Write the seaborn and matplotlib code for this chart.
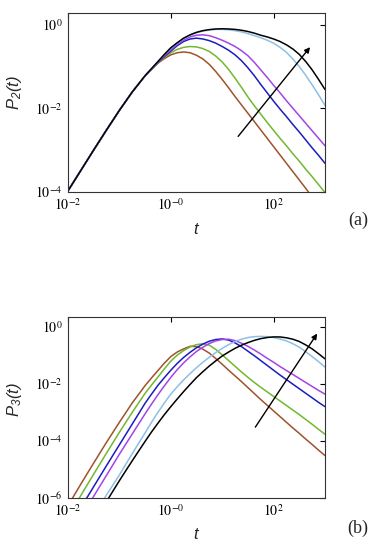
import numpy as np
import pandas as pd
import matplotlib
matplotlib.use("Agg")
import matplotlib.pyplot as plt
from matplotlib.ticker import FixedLocator, FixedFormatter, NullLocator
import seaborn as sns

# ---------------- data (log10 values) ----------------
log_t = [-2, -1.75, -1.5, -1.25, -1, -0.75,
         -0.5, -0.375, -0.25, -0.125, 0, 0.125, 0.25, 0.375, 0.5, 0.625, 0.75, 0.875,
         1, 1.125, 1.25, 1.375, 1.5, 1.625, 1.75, 1.875, 2, 2.125, 2.25, 2.375,
         2.5, 2.625, 2.75, 2.875, 3]

curve_names = ["brown", "green", "blue", "purple", "lightblue", "black"]

# panel (a): log10 P2(t)
p2_early = [-3.98, -3.49, -3.00, -2.52, -2.05, -1.61]
p2_brown = p2_early + [-1.22, -1.07, -0.92, -0.81, -0.72, -0.67, -0.65, -0.67, -0.73, -0.82, -0.95, -1.12,
                       -1.31, -1.51, -1.72, -1.92, -2.12, -2.32, -2.52, -2.72, -2.92, -3.12, -3.32, -3.52,
                       -3.72, -3.92, -4.13, -4.34, -4.55]
p2_green = p2_early + [-1.22, -1.06, -0.91, -0.78, -0.67, -0.59, -0.54, -0.52, -0.53, -0.57, -0.64, -0.75,
                       -0.89, -1.07, -1.28, -1.50, -1.73, -1.94, -2.14, -2.34, -2.53, -2.72, -2.90, -3.09,
                       -3.27, -3.46, -3.64, -3.83, -4.02]
p2_blue = p2_early + [-1.22, -1.06, -0.90, -0.76, -0.63, -0.50, -0.40, -0.34, -0.32, -0.34, -0.38, -0.44,
                      -0.52, -0.61, -0.72, -0.86, -1.03, -1.22, -1.43, -1.63, -1.83, -2.02, -2.20, -2.39,
                      -2.57, -2.76, -2.95, -3.13, -3.32]
p2_purple = p2_early + [-1.22, -1.06, -0.89, -0.74, -0.60, -0.47, -0.37, -0.29, -0.25, -0.24, -0.26, -0.31,
                        -0.37, -0.44, -0.52, -0.62, -0.74, -0.90, -1.08, -1.26, -1.45, -1.63, -1.82, -2.00,
                        -2.18, -2.36, -2.54, -2.72, -2.90]
p2_lightblue = p2_early + [-1.22, -1.05, -0.88, -0.71, -0.56, -0.44, -0.33, -0.25, -0.19, -0.15, -0.125, -0.11,
                           -0.11, -0.12, -0.14, -0.17, -0.21, -0.26, -0.31, -0.37, -0.44, -0.54, -0.66, -0.82,
                           -1.00, -1.21, -1.44, -1.68, -1.93]
p2_black = p2_early + [-1.22, -1.05, -0.88, -0.71, -0.55, -0.43, -0.32, -0.24, -0.18, -0.14, -0.115, -0.10,
                       -0.095, -0.10, -0.11, -0.13, -0.16, -0.20, -0.25, -0.29, -0.34, -0.40, -0.48, -0.58,
                       -0.71, -0.88, -1.08, -1.31, -1.55]

# panel (b): log10 P3(t)
p3_brown = [-6.28, -5.52, -4.78, -4.05, -3.35, -2.67,
            -2.06, -1.79, -1.53, -1.27, -1.04, -0.88, -0.77, -0.68, -0.69, -0.78, -0.92, -1.11,
            -1.31, -1.52, -1.72, -1.92, -2.13, -2.34, -2.55, -2.75, -2.95, -3.15, -3.35, -3.55,
            -3.74, -3.94, -4.13, -4.33, -4.52]
p3_green = [-6.67, -5.92, -5.17, -4.43, -3.70, -3.00,
            -2.33, -2.04, -1.76, -1.47, -1.20, -0.99, -0.83, -0.70, -0.62, -0.59, -0.64, -0.79,
            -0.98, -1.18, -1.38, -1.58, -1.77, -1.95, -2.12, -2.28, -2.44, -2.60, -2.76, -2.92,
            -3.08, -3.25, -3.42, -3.60, -3.77]
p3_blue = [-7.10, -6.35, -5.61, -4.87, -4.14, -3.41,
           -2.68, -2.36, -2.05, -1.78, -1.52, -1.28, -1.07, -0.89, -0.73, -0.60, -0.50, -0.44,
           -0.42, -0.46, -0.56, -0.69, -0.85, -1.01, -1.18, -1.35, -1.52, -1.69, -1.85, -2.01,
           -2.17, -2.33, -2.49, -2.65, -2.80]
p3_purple = [-7.45, -6.70, -5.95, -5.21, -4.47, -3.76,
             -3.05, -2.71, -2.38, -2.07, -1.77, -1.50, -1.26, -1.05, -0.86, -0.71, -0.58, -0.49,
             -0.44, -0.43, -0.48, -0.57, -0.68, -0.81, -0.95, -1.10, -1.24, -1.39, -1.53, -1.67,
             -1.81, -1.95, -2.09, -2.23, -2.36]
p3_lightblue = [-8.10, -7.35, -6.63, -5.90, -5.20, -4.45,
                -3.72, -3.35, -3.00, -2.67, -2.36, -2.10, -1.86, -1.64, -1.43, -1.24, -1.06, -0.90,
                -0.75, -0.62, -0.51, -0.43, -0.37, -0.34, -0.33, -0.34, -0.37, -0.42, -0.49, -0.59,
                -0.71, -0.87, -1.04, -1.22, -1.41]
p3_black = [-8.36, -7.62, -6.88, -6.13, -5.40, -4.70,
            -4.02, -3.69, -3.38, -3.08, -2.80, -2.53, -2.27, -2.02, -1.78, -1.57, -1.37, -1.19,
            -1.02, -0.88, -0.75, -0.64, -0.55, -0.47, -0.41, -0.37, -0.35, -0.35, -0.38, -0.43,
            -0.51, -0.63, -0.77, -0.94, -1.12]

xtick_vals = [1e-2, 1e0, 1e2]
xtick_labels = ["$10^{-2}$", "$10^{-0}$", "$10^{2}$"]
ytick_vals_a = [1e-4, 1e-2, 1e0]
ytick_labels_a = ["$10^{-4}$", "$10^{-2}$", "$10^{0}$"]
ytick_vals_b = [1e-6, 1e-4, 1e-2, 1e0]
ytick_labels_b = ["$10^{-6}$", "$10^{-4}$", "$10^{-2}$", "$10^{0}$"]

# arrows (tail, head) in log10 data coords
arrow_a = ((1.31, -2.675), (2.71, -0.535))
arrow_b = ((1.645, -3.52), (2.848, -0.23))

palette = {"brown": "#a0522d", "green": "#72b82e", "blue": "#1c1cbf",
           "purple": "#a444e6", "lightblue": "#8cc0e6", "black": "#000000"}

# ---------------- style ----------------
sns.set_theme(style="white")
plt.rcParams["font.family"] = ["Liberation Serif", "DejaVu Serif"]
plt.rcParams["mathtext.fontset"] = "stix"
plt.rcParams["mathtext.rm"] = "Liberation Sans:italic"
plt.rcParams["mathtext.it"] = "Liberation Sans:italic"
plt.rcParams["mathtext.sf"] = "Liberation Sans:italic"
plt.rcParams["mathtext.bf"] = "Liberation Sans:bold:italic"


def long_frame(series):
    rows = []
    for name, vals in zip(curve_names, series):
        for lt, lp in zip(log_t, vals):
            rows.append({"curve": name, "t": 10.0 ** lt, "P": 10.0 ** lp})
    return pd.DataFrame(rows)


df_a = long_frame([p2_brown, p2_green, p2_blue, p2_purple, p2_lightblue, p2_black])
df_b = long_frame([p3_brown, p3_green, p3_blue, p3_purple, p3_lightblue, p3_black])

fig = plt.figure(figsize=(3.81, 5.5), dpi=100)
ax_a = fig.add_axes([0.1785, 0.6515, 0.6745, 0.3254])
ax_b = fig.add_axes([0.1785, 0.0951, 0.6745, 0.3285])


def style_axes(ax, df, yvals, ylabels, ylim, arrow):
    sns.lineplot(data=df, x="t", y="P", hue="curve", hue_order=curve_names,
                 palette=palette, estimator=None, sort=False, legend=False,
                 linewidth=1.1, ax=ax)
    ax.set_xscale("log")
    ax.set_yscale("log")
    ax.set_xlim(1e-2, 1e3)
    ax.set_ylim(*ylim)
    ax.xaxis.set_major_locator(FixedLocator(xtick_vals))
    ax.xaxis.set_major_formatter(FixedFormatter(xtick_labels))
    ax.xaxis.set_minor_locator(NullLocator())
    ax.yaxis.set_major_locator(FixedLocator(yvals))
    ax.yaxis.set_major_formatter(FixedFormatter(ylabels))
    ax.yaxis.set_minor_locator(NullLocator())
    ax.tick_params(which="both", direction="in", top=True, right=True,
                   length=3.5, width=0.8, labelsize=10, pad=4, colors="black")
    for sp in ax.spines.values():
        sp.set_color("#333333")
        sp.set_linewidth(0.8)
    ax.set_xlabel("")
    ax.set_ylabel("")
    (tx, ty), (hx, hy) = arrow
    ax.annotate("", xy=(10 ** hx, 10 ** hy), xytext=(10 ** tx, 10 ** ty),
                arrowprops=dict(arrowstyle="-|>", color="black", lw=1.0,
                                mutation_scale=8, shrinkA=0, shrinkB=0))


style_axes(ax_a, df_a, ytick_vals_a, ytick_labels_a, (1e-4, 10 ** 0.29), arrow_a)
style_axes(ax_b, df_b, ytick_vals_b, ytick_labels_b, (1e-6, 10 ** 0.35), arrow_b)

lab_kw = dict(math_fontfamily="custom", fontsize=12, ha="center", va="center")
fig.text(196.5 / 381, 1 - 230 / 550, "$t$", **lab_kw)
fig.text(196.5 / 381, 1 - 535 / 550, "$t$", **lab_kw)
fig.text(14 / 381, 1 - 93 / 550, "$P_2(t)$", rotation=90, **lab_kw)
fig.text(14 / 381, 1 - 400 / 550, "$P_3(t)$", rotation=90, **lab_kw)

fig.text(358 / 381, 1 - 220 / 550, "(a)", fontsize=13, ha="center", va="center",
         family=["Liberation Serif"])
fig.text(358 / 381, 1 - 528 / 550, "(b)", fontsize=13, ha="center", va="center",
         family=["Liberation Serif"])

fig.savefig("out.png", dpi=100)
